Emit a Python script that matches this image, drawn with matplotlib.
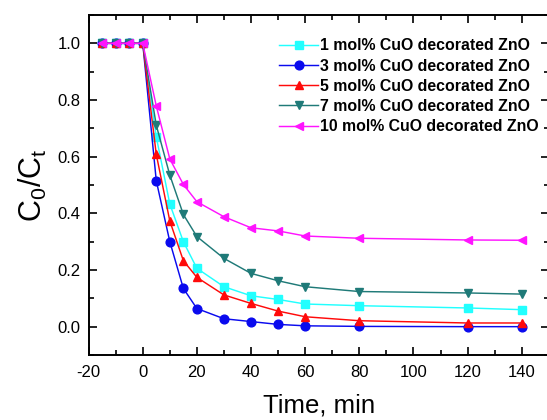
import matplotlib
matplotlib.use("Agg")
import matplotlib.pyplot as plt
from matplotlib.ticker import MultipleLocator

plt.rcParams['font.family'] = ['Liberation Sans', 'DejaVu Sans']
plt.rcParams['axes.unicode_minus'] = False

# time points (min)
time = [-15, -10, -5, 0, 5, 10, 15, 20, 30, 40, 50, 60, 80, 120, 140]

# C0/Ct values
cuo_1 = [1.0, 1.0, 1.0, 1.0, 0.67, 0.433, 0.30, 0.206, 0.141, 0.109, 0.096, 0.08, 0.074, 0.066, 0.06]
cuo_3 = [1.0, 1.0, 1.0, 1.0, 0.515, 0.30, 0.135, 0.064, 0.028, 0.018, 0.008, 0.003, 0.001, 0.0, 0.0]
cuo_5 = [1.0, 1.0, 1.0, 1.0, 0.608, 0.373, 0.233, 0.174, 0.112, 0.082, 0.055, 0.035, 0.021, 0.013, 0.013]
cuo_7 = [1.0, 1.0, 1.0, 1.0, 0.711, 0.535, 0.396, 0.318, 0.241, 0.188, 0.162, 0.141, 0.124, 0.119, 0.115]
cuo_10 = [1.0, 1.0, 1.0, 1.0, 0.779, 0.592, 0.502, 0.441, 0.388, 0.349, 0.338, 0.32, 0.312, 0.306, 0.305]

series = [
    (cuo_1, '1 mol% CuO decorated ZnO', '#22ffff', 's'),
    (cuo_3, '3 mol% CuO decorated ZnO', '#0a0aee', 'o'),
    (cuo_5, '5 mol% CuO decorated ZnO', '#ff0a0a', '^'),
    (cuo_7, '7 mol% CuO decorated ZnO', '#1f7a78', 'v'),
    (cuo_10, '10 mol% CuO decorated ZnO', '#ff14ff', '<'),
]

fig = plt.figure(figsize=(5.47, 4.2), dpi=100)
# axes run slightly past the right edge like the original crop
ax = fig.add_axes([88.6 / 547, 65 / 420, (548.8 - 88.6) / 547, 340 / 420])

for vals, lab, col, mk in series:
    ax.plot(time, vals, color=col, marker=mk, markersize=6.3, linewidth=1.05, label=lab)

ax.set_xlim(-20, 150)
ax.set_ylim(-0.1, 1.1)
ax.xaxis.set_minor_locator(MultipleLocator(10))
ax.yaxis.set_minor_locator(MultipleLocator(0.1))
ax.set_yticks([0.0, 0.2, 0.4, 0.6, 0.8, 1.0])
ax.set_xticks([-20, 0, 20, 40, 60, 80, 100, 120, 140])
ax.tick_params(which='both', direction='in', top=True, right=True, width=1.2, labelsize=12)
ax.tick_params(which='major', length=6)
ax.tick_params(which='minor', length=3.5)
ax.tick_params(axis='x', pad=7)
ax.tick_params(axis='y', pad=6)
for s in ax.spines.values():
    s.set_linewidth(1.4)

ax.set_xlabel('Time, min', fontsize=18.5, labelpad=10)
ax.set_ylabel('C$_\\mathregular{0}$/C$_\\mathregular{t}$', fontsize=22, labelpad=6)

leg = ax.legend(loc='upper left', bbox_to_anchor=(273 / 547, 1 - 32 / 420),
                bbox_transform=fig.transFigure, frameon=False,
                prop={'weight': 'bold', 'size': 11.4}, handlelength=2.45,
                handletextpad=0.15, labelspacing=0.33, borderaxespad=0)

fig.savefig('out.png', dpi=100)
